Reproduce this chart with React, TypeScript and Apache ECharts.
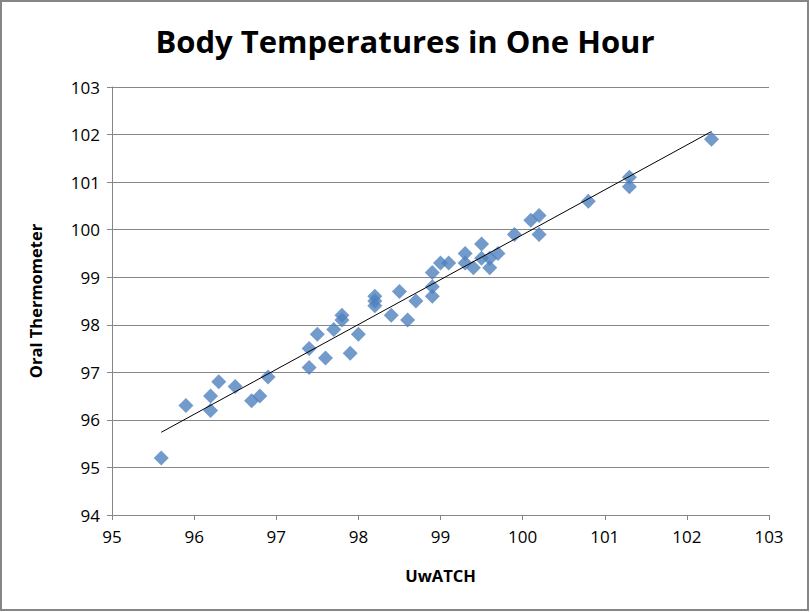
import React, { useEffect, useRef } from "react";
import * as echarts from "echarts";

const uwatch = [
  95.6, 95.9, 96.2, 96.2, 96.3, 96.5, 96.7, 96.8, 96.9,
  97.4, 97.4, 97.5, 97.6, 97.7, 97.8, 97.8, 97.9, 98.0,
  98.2, 98.2, 98.2, 98.4, 98.5, 98.6, 98.7,
  98.9, 98.9, 98.9, 99.0, 99.1, 99.3, 99.3, 99.4, 99.5, 99.5, 99.6, 99.6, 99.7,
  99.9, 100.1, 100.2, 100.2, 100.8, 101.3, 101.3, 102.3,
];
const oral = [
  95.2, 96.3, 96.5, 96.2, 96.8, 96.7, 96.4, 96.5, 96.9,
  97.5, 97.1, 97.8, 97.3, 97.9, 98.2, 98.1, 97.4, 97.8,
  98.6, 98.5, 98.4, 98.2, 98.7, 98.1, 98.5,
  99.1, 98.8, 98.6, 99.3, 99.3, 99.5, 99.3, 99.2, 99.7, 99.4, 99.2, 99.4, 99.5,
  99.9, 100.2, 100.3, 99.9, 100.6, 101.1, 100.9, 101.9,
];

const title = "Body Temperatures in One Hour";
const xName = "UwATCH";
const yName = "Oral Thermometer";

function regression(xs: number[], ys: number[]) {
  const n = xs.length;
  const mx = xs.reduce((a, b) => a + b, 0) / n;
  const my = ys.reduce((a, b) => a + b, 0) / n;
  let sxy = 0, sxx = 0;
  for (let i = 0; i < n; i++) {
    sxy += (xs[i] - mx) * (ys[i] - my);
    sxx += (xs[i] - mx) * (xs[i] - mx);
  }
  const b = sxy / sxx;
  return { a: my - b * mx, b };
}

export default function App() {
  const ref = useRef<HTMLDivElement>(null);
  useEffect(() => {
    const chart = echarts.init(ref.current!, undefined, { renderer: "svg" });
    const { a, b } = regression(uwatch, oral);
    const xmin = Math.min(...uwatch);
    const xmax = Math.max(...uwatch);
    const font = "'Open Sans', 'Noto Sans', sans-serif";
    chart.setOption({
      animation: false,
      backgroundColor: "#ffffff",
      title: {
        text: title,
        left: "center",
        top: 20,
        textStyle: { fontFamily: font, fontSize: 31, fontWeight: "bold", color: "#000" },
      },
      graphic: [
        {
          type: "rect",
          shape: { x: 1, y: 1, width: 807, height: 609 },
          style: { fill: "none", stroke: "#868686", lineWidth: 2 },
          silent: true,
        },
      ],
      grid: { left: 112, top: 87, right: 41, bottom: 97, containLabel: false },
      xAxis: {
        type: "value",
        min: 95,
        max: 103,
        interval: 1,
        name: xName,
        nameLocation: "middle",
        nameGap: 52,
        nameTextStyle: { fontFamily: font, fontSize: 16.5, fontWeight: "bold", color: "#000" },
        axisLine: { show: true, lineStyle: { color: "#868686", width: 1 } },
        axisTick: { show: true, length: 5, lineStyle: { color: "#868686" } },
        axisLabel: { fontFamily: font, fontSize: 17, color: "#000", margin: 13 },
        splitLine: { show: false },
      },
      yAxis: {
        type: "value",
        min: 94,
        max: 103,
        interval: 1,
        name: yName,
        nameLocation: "middle",
        nameGap: 68,
        nameTextStyle: { fontFamily: font, fontSize: 16.5, fontWeight: "bold", color: "#000" },
        axisLine: { show: true, lineStyle: { color: "#868686", width: 1 } },
        axisTick: { show: true, length: 5, lineStyle: { color: "#868686" } },
        axisLabel: { fontFamily: font, fontSize: 17, color: "#000", margin: 12 },
        splitLine: { show: true, lineStyle: { color: "#868686", width: 1 } },
      },
      series: [
        {
          type: "scatter",
          symbol: "diamond",
          symbolSize: 15,
          itemStyle: { color: "#4F81BD" },
          data: uwatch.map((x, i) => [x, oral[i]]),
          z: 2,
        },
        {
          type: "line",
          data: [
            [xmin, a + b * xmin],
            [xmax, a + b * xmax],
          ],
          symbol: "none",
          lineStyle: { color: "#000", width: 1 },
          z: 3,
        },
      ],
    });
    return () => chart.dispose();
  }, []);
  return (
    <div
      ref={ref}
      style={{ position: "fixed", left: 0, top: 0, width: 810, height: 612 }}
    />
  );
}
